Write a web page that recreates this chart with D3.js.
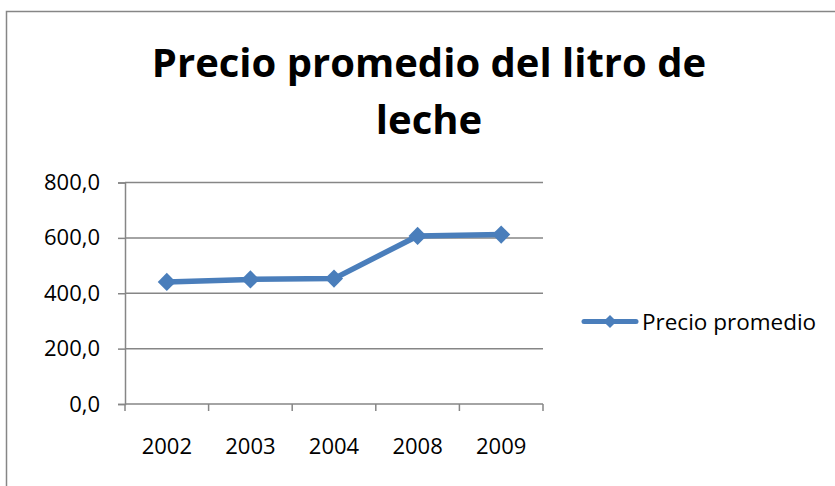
<!DOCTYPE html>
<head>
  <meta charset="utf-8">
  <script src="https://d3js.org/d3.v7.min.js"></script>
  <style>
  body { margin: 0; background: #fff; }
  text { font-family: "Open Sans", "Liberation Sans", sans-serif; fill: #000; }
  </style>
</head>
<body>
<svg width="835" height="486"></svg>

<script type="text/javascript">
// Data
var years = ["2002", "2003", "2004", "2008", "2009"];
var precio = [441, 450, 453, 607, 612];
var yTicks = [0, 200, 400, 600, 800];

var svg = d3.select("svg");
var blue = "#4a7ebb";
var grey = "#868686";

// outer frame of the chart object
svg.append("rect")
    .attr("x", 6.5).attr("y", 11.5)
    .attr("width", 840).attr("height", 490)
    .attr("fill", "none")
    .attr("stroke", grey)
    .attr("stroke-width", 1.5);

// title
var title = svg.append("text")
    .attr("text-anchor", "middle")
    .style("font-weight", "bold")
    .style("font-size", "40px");
title.append("tspan").attr("x", 429).attr("y", 77).text("Precio promedio del litro de");
title.append("tspan").attr("x", 429).attr("y", 134).text("leche");

var x = d3.scaleBand().domain(years).range([125, 543]);
var y = d3.scaleLinear().domain([0, 800]).range([404, 182.5]);

// gridlines
svg.append("g").selectAll("line")
  .data(yTicks.slice(1))
  .enter().append("line")
    .attr("x1", 125).attr("x2", 543)
    .attr("y1", function(d) { return y(d); })
    .attr("y2", function(d) { return y(d); })
    .attr("stroke", grey)
    .attr("stroke-width", 1.5);

// y axis
var yAxis = svg.append("g")
    .attr("transform", "translate(125,0)")
    .call(d3.axisLeft(y).tickValues(yTicks).tickSize(7).tickPadding(18)
      .tickFormat(function(d) { return d3.format(".1f")(d).replace(".", ","); }));

// x axis, ticks sit between the categories
var xAxis = svg.append("g")
    .attr("transform", "translate(0,404)")
    .call(d3.axisBottom(x).tickSize(0).tickPadding(34));
xAxis.selectAll(".tick")
  .append("line")
    .attr("x1", -x.bandwidth() / 2).attr("x2", -x.bandwidth() / 2)
    .attr("y1", 0).attr("y2", 7);
xAxis.append("line")
    .attr("x1", 543).attr("x2", 543).attr("y1", 0).attr("y2", 7);

[yAxis, xAxis].forEach(function(g) {
  g.select(".domain").attr("stroke", grey).attr("stroke-width", 1.5);
  g.selectAll("line").attr("stroke", grey).attr("stroke-width", 1.5);
  g.selectAll("text").style("font-size", "22px").attr("fill", "#000")
    .style("font-family", "'Open Sans', sans-serif");
});
xAxis.select(".domain").attr("d", "M125,0H543");

// series line
var line = d3.line()
    .x(function(d, i) { return x(years[i]) + x.bandwidth() / 2; })
    .y(function(d) { return y(d); });

svg.append("path")
    .datum(precio)
    .attr("d", line)
    .attr("fill", "none")
    .attr("stroke", blue)
    .attr("stroke-width", 5.5)
    .attr("stroke-linejoin", "round");

var diamond = d3.symbol().type(d3.symbolDiamond2).size(210);

svg.append("g").selectAll("path")
  .data(precio)
  .enter().append("path")
    .attr("d", diamond)
    .attr("transform", function(d, i) {
      return "translate(" + (x(years[i]) + x.bandwidth() / 2) + "," + y(d) + ")";
    })
    .attr("fill", blue);

// legend
var lg = svg.append("g").attr("transform", "translate(0,321.5)");
lg.append("line")
    .attr("x1", 584).attr("x2", 636)
    .attr("stroke", blue).attr("stroke-width", 5).attr("stroke-linecap", "round");
lg.append("path")
    .attr("d", d3.symbol().type(d3.symbolDiamond2).size(110))
    .attr("transform", "translate(610,0)")
    .attr("fill", blue);
lg.append("text")
    .attr("x", 642).attr("y", 8)
    .style("font-size", "22.5px")
    .text("Precio promedio");
</script>
</body>
</html>
